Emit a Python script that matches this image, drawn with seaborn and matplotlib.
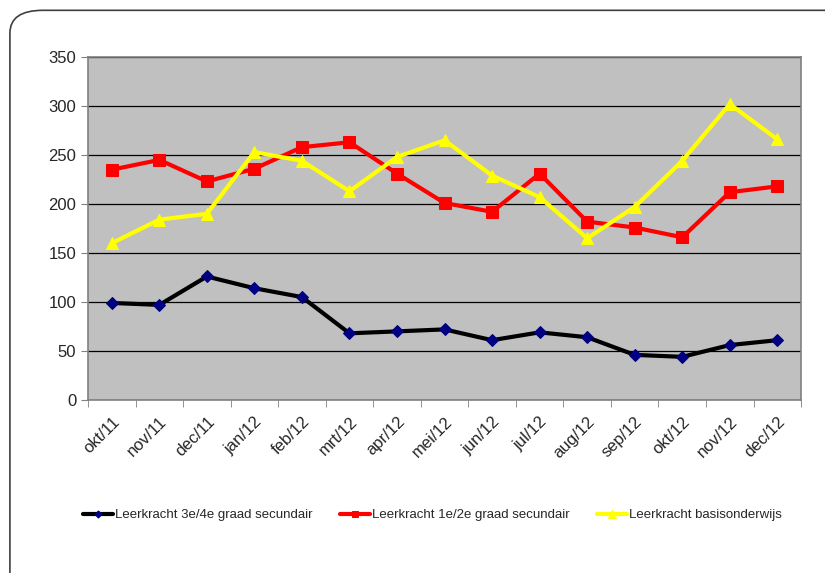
import matplotlib
matplotlib.use("Agg")
import matplotlib.pyplot as plt
import seaborn as sns
import pandas as pd
from matplotlib.patches import FancyBboxPatch
from matplotlib import font_manager

months = ["okt/11", "nov/11", "dec/11", "jan/12", "feb/12", "mrt/12", "apr/12", "mei/12",
          "jun/12", "jul/12", "aug/12", "sep/12", "okt/12", "nov/12", "dec/12"]
sec_34 = [99, 97, 126, 114, 105, 68, 70, 72, 61, 69, 64, 46, 44, 56, 61]
sec_12 = [235, 245, 223, 236, 258, 263, 231, 201, 192, 231, 182, 176, 166, 212, 218]
basis = [160, 184, 190, 253, 244, 213, 248, 265, 229, 207, 165, 197, 244, 302, 266]
y_ticks = [0, 50, 100, 150, 200, 250, 300, 350]

series = [
    ("Leerkracht 3e/4e graad secundair", sec_34, "black", "D", "#000080", 6),
    ("Leerkracht 1e/2e graad secundair", sec_12, "#FF0000", "s", "#FF0000", 8),
    ("Leerkracht basisonderwijs", basis, "#FFFF00", "^", "#FFFF00", 9),
]

sns.set_style("white")
names = {f.name for f in font_manager.fontManager.ttflist}
narrow = "Liberation Sans Narrow" in names
plt.rcParams["font.family"] = (["Liberation Sans Narrow"] if narrow else []) + ["Liberation Sans", "DejaVu Sans"]
leg_size = 11 if narrow else 9.5

fig = plt.figure(figsize=(8.25, 5.73), dpi=100)
frame = FancyBboxPatch((0.012, -0.2), 1.2, 1.182, boxstyle="round,pad=0,rounding_size=0.04",
                       transform=fig.transFigure, fill=False, edgecolor="#404040", lw=1.2)
fig.patches.append(frame)

ax = fig.add_axes([0.1067, 0.302, 0.8643, 0.5985])
ax.set_facecolor("#C0C0C0")

for name, vals, col, mk, mcol, ms in series:
    df = pd.DataFrame({"maand": months, "aantal": vals})
    sns.lineplot(data=df, x="maand", y="aantal", ax=ax, color=col, lw=3, marker=mk,
                 markersize=ms, markerfacecolor=mcol, markeredgecolor=mcol,
                 sort=False, label=name, zorder=3)

ax.set_xlim(-0.5, len(months) - 0.5)
ax.set_ylim(0, 350)
ax.set_yticks(y_ticks)
ax.yaxis.grid(True, color="black", lw=0.9)
ax.set_axisbelow(True)
ax.set_xlabel("")
ax.set_ylabel("")

ax.set_xticks(range(len(months)))
ax.set_xticklabels(months, rotation=45, ha="right", rotation_mode="anchor", fontsize=12)
ax.set_xticks([i - 0.5 for i in range(len(months) + 1)], minor=True)
ax.tick_params(axis="x", which="major", length=0, pad=10)
ax.tick_params(axis="x", which="minor", length=5, color="#808080", direction="out", bottom=True)
ax.tick_params(axis="y", length=5, color="#808080", direction="out", left=True, labelsize=12)

for side in ["left", "bottom", "right", "top"]:
    ax.spines[side].set_visible(True)
    ax.spines[side].set_color("#808080")
    ax.spines[side].set_linewidth(1.2)

handles, labels = ax.get_legend_handles_labels()
ax.legend_.remove()
fig.legend(handles, labels, loc="center", bbox_to_anchor=(0.524, 0.101), ncol=3,
           frameon=False, fontsize=leg_size, handlelength=2.3, handletextpad=0.1,
           columnspacing=2.1, markerscale=0.6)

fig.savefig("out.png", dpi=100)
